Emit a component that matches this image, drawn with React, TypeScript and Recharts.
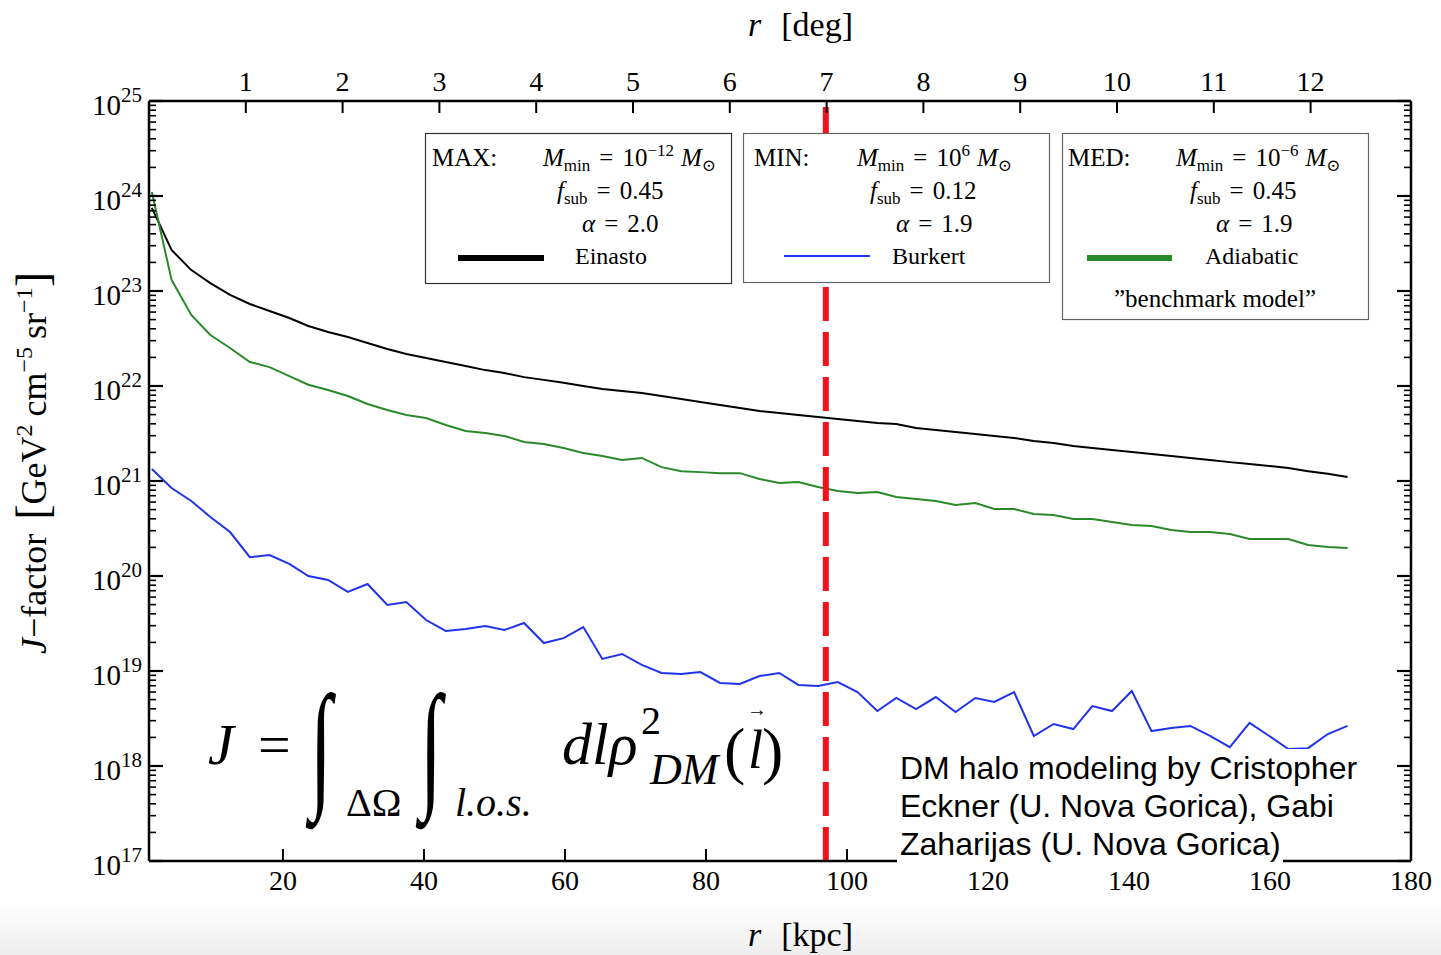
import { LineChart, Line, XAxis, YAxis, ReferenceLine } from "recharts";

const SERIF = '"Liberation Serif", "DejaVu Serif", serif';
const SANS = '"Liberation Sans", Arial, sans-serif';

// galactocentric radius [kpc]
const R_KPC = [
  1.4, 4.2, 7.0, 9.7, 12.5, 15.3, 18.1, 20.9, 23.6, 26.4, 29.2, 32.0, 34.8, 37.5, 40.3, 43.1,
  45.9, 48.7, 51.4, 54.2, 57.0, 59.8, 62.6, 65.3, 68.1, 70.9, 73.7, 76.5, 79.2, 82.0, 84.8,
  87.6, 90.4, 93.1, 95.9, 98.7, 101.5, 104.3, 107.0, 109.8, 112.6, 115.4, 118.2, 120.9, 123.7,
  126.5, 129.3, 132.1, 134.8, 137.6, 140.4, 143.2, 146.0, 148.7, 151.5, 154.3, 157.1, 159.9,
  162.6, 165.4, 168.2, 171.0,
];

const EINASTO = [
  7.5e23, 2.7e23, 1.66e23, 1.21e23, 9.1e22, 7.3e22, 6.16e22, 5.2e22, 4.28e22, 3.7e22, 3.28e22,
  2.84e22, 2.45e22, 2.17e22, 1.97e22, 1.79e22, 1.62e22, 1.47e22, 1.37e22, 1.24e22, 1.16e22,
  1.08e22, 1.0e22, 9.3e21, 8.85e21, 8.44e21, 7.85e21, 7.3e21, 6.79e21, 6.31e21, 5.87e21,
  5.46e21, 5.2e21, 4.95e21, 4.72e21, 4.5e21, 4.28e21, 4.08e21, 3.98e21, 3.61e21, 3.44e21,
  3.28e21, 3.13e21, 2.98e21, 2.84e21, 2.64e21, 2.51e21, 2.33e21, 2.22e21, 2.12e21, 2.02e21,
  1.92e21, 1.83e21, 1.75e21, 1.66e21, 1.58e21, 1.51e21, 1.44e21, 1.37e21, 1.27e21, 1.19e21,
  1.1e21,
];

const ADIABATIC = [
  1.1e24, 1.31e23, 5.59e22, 3.44e22, 2.51e22, 1.79e22, 1.58e22, 1.27e22, 1.03e22, 9.08e21,
  7.85e21, 6.47e21, 5.59e21, 4.95e21, 4.61e21, 3.88e21, 3.36e21, 3.2e21, 2.98e21, 2.58e21,
  2.45e21, 2.22e21, 1.97e21, 1.83e21, 1.66e21, 1.75e21, 1.4e21, 1.27e21, 1.24e21, 1.21e21,
  1.21e21, 1.05e21, 9.53e20, 9.76e20, 8.65e20, 7.85e20, 7.48e20, 7.66e20, 6.79e20, 6.47e20,
  6.16e20, 5.59e20, 5.86e20, 5.07e20, 5.07e20, 4.5e20, 4.39e20, 3.98e20, 3.98e20, 3.7e20,
  3.44e20, 3.36e20, 3.05e20, 2.9e20, 2.9e20, 2.77e20, 2.45e20, 2.45e20, 2.45e20, 2.12e20,
  2.02e20, 1.97e20,
];

const BURKERT = [
  1.34e21, 8.44e20, 6.16e20, 4.18e20, 2.9e20, 1.58e20, 1.66e20, 1.34e20, 1.0e20, 9.08e19,
  6.79e19, 8.24e19, 4.95e19, 5.32e19, 3.44e19, 2.64e19, 2.77e19, 2.98e19, 2.7e19, 3.2e19,
  1.97e19, 2.22e19, 2.9e19, 1.34e19, 1.51e19, 1.16e19, 9.53e18, 9.3e18, 9.76e18, 7.48e18,
  7.3e18, 8.85e18, 9.53e18, 7.13e18, 6.95e18, 7.66e18, 6.01e18, 3.79e18, 5.2e18, 3.98e18,
  5.32e18, 3.7e18, 5.2e18, 4.72e18, 6.01e18, 2.07e18, 2.77e18, 2.45e18, 4.28e18, 3.79e18,
  6.15e18, 2.33e18, 2.51e18, 2.64e18, 2.07e18, 1.58e18, 2.84e18, 2.07e18, 1.51e18, 1.54e18,
  2.17e18, 2.64e18,
];

const KPC_TICKS = [20, 40, 60, 80, 100, 120, 140, 160, 180];
const DEG_TICKS = [1, 2, 3, 4, 5, 6, 7, 8, 9, 10, 11, 12];
const KPC_PER_DEG = 13.73;
const DEG_ZERO_KPC = 1;
const Y_EXPONENTS = [17, 18, 19, 20, 21, 22, 23, 24, 25];
const CUT_KPC = 97.0;

const CREDIT_LINES = [
  "DM halo modeling by Cristopher",
  "Eckner (U. Nova Gorica), Gabi",
  "Zaharijas (U. Nova Gorica)",
];

const data = R_KPC.map((r, i) => ({
  r,
  einasto: EINASTO[i],
  adiabatic: ADIABATIC[i],
  burkert: BURKERT[i],
}));

const yTicks: number[] = [];
Y_EXPONENTS.forEach((e, k) => {
  yTicks.push(Math.pow(10, e));
  if (k < Y_EXPONENTS.length - 1) {
    for (let m = 2; m <= 9; m++) yTicks.push(m * Math.pow(10, e));
  }
});

const degTicksKpc = DEG_TICKS.map((d) => DEG_ZERO_KPC + d * KPC_PER_DEG);

function expOf(v: number) {
  const l = Math.log10(v);
  return Math.abs(l - Math.round(l)) < 1e-6 ? Math.round(l) : null;
}

function LeftTick(props: any) {
  const { x, y, payload } = props;
  const e = expOf(payload.value);
  const major = e !== null;
  return (
    <g>
      <line x1={x} x2={x + (major ? 14 : 7)} y1={y} y2={y} stroke="#000" strokeWidth={major ? 2.2 : 1.6} />
      {major && (
        <text x={x - 7} y={y + 14} textAnchor="end" fontSize={29} fontFamily={SERIF} fill="#000">
          10
          <tspan dy={-13} fontSize={21}>{e}</tspan>
        </text>
      )}
    </g>
  );
}

function RightTick(props: any) {
  const { x, y, payload } = props;
  const major = expOf(payload.value) !== null;
  return <line x1={x} x2={x - (major ? 14 : 7)} y1={y} y2={y} stroke="#000" strokeWidth={major ? 2.2 : 1.6} />;
}

function BottomTick(props: any) {
  const { x, y, payload } = props;
  return (
    <g>
      <line x1={x} x2={x} y1={y} y2={y - 12} stroke="#000" strokeWidth={2} />
      <text x={x} y={y + 29} textAnchor="middle" fontSize={28} fontFamily={SERIF} fill="#000">
        {payload.value}
      </text>
    </g>
  );
}

function TopTick(props: any) {
  const { x, y, payload } = props;
  const deg = Math.round((payload.value - DEG_ZERO_KPC) / KPC_PER_DEG);
  return (
    <g>
      <line x1={x} x2={x} y1={y} y2={y + 12} stroke="#000" strokeWidth={2} />
      <text x={x} y={y - 10} textAnchor="middle" fontSize={28} fontFamily={SERIF} fill="#000">
        {deg}
      </text>
    </g>
  );
}

function Mmin({ x, y, exp }: { x: number; y: number; exp: string }) {
  return (
    <text x={x} y={y} fontSize={25} fontFamily={SERIF} fill="#000">
      <tspan fontStyle="italic">M</tspan>
      <tspan fontSize={17} dy={5}>min</tspan>
      <tspan dy={-5} dx={9}>=</tspan>
      <tspan dx={9}>10</tspan>
      <tspan fontSize={17} dy={-10}>{exp}</tspan>
      <tspan dy={10} dx={7} fontStyle="italic">M</tspan>
      <tspan fontSize={17} dy={5}>⊙</tspan>
    </text>
  );
}

function Fsub({ x, y, val }: { x: number; y: number; val: string }) {
  return (
    <text x={x} y={y} fontSize={25} fontFamily={SERIF} fill="#000">
      <tspan fontStyle="italic">f</tspan>
      <tspan fontSize={17} dy={5}>sub</tspan>
      <tspan dy={-5} dx={9}>=</tspan>
      <tspan dx={9}>{val}</tspan>
    </text>
  );
}

function Alpha({ x, y, val }: { x: number; y: number; val: string }) {
  return (
    <text x={x} y={y} fontSize={25} fontFamily={SERIF} fill="#000">
      <tspan fontStyle="italic">α</tspan>
      <tspan dx={9}>=</tspan>
      <tspan dx={9}>{val}</tspan>
    </text>
  );
}

function Overlay() {
  const t = { fontFamily: SERIF, fill: "#000" };
  return (
    <svg width={1441} height={955} style={{ position: "absolute", left: 0, top: 0, pointerEvents: "none" }}>
      {/* legend boxes */}
      <rect x={425.5} y={133.5} width={306} height={150} fill="#fff" stroke="#333" strokeWidth={1.2} />
      <text x={432} y={166} fontSize={25} {...t}>MAX:</text>
      <Mmin x={543} y={166} exp="−12" />
      <Fsub x={557} y={199} val="0.45" />
      <Alpha x={582} y={232} val="2.0" />
      <line x1={458} x2={544} y1={258} y2={258} stroke="#000" strokeWidth={6} />
      <text x={575} y={264} fontSize={24} {...t}>Einasto</text>

      <rect x={743.5} y={133.5} width={306} height={149} fill="#fff" stroke="#666" strokeWidth={1.2} />
      <text x={754} y={166} fontSize={25} {...t}>MIN:</text>
      <Mmin x={857} y={166} exp="6" />
      <Fsub x={870} y={199} val="0.12" />
      <Alpha x={896} y={232} val="1.9" />
      <line x1={784} x2={870} y1={256} y2={256} stroke="#2233ee" strokeWidth={2} />
      <text x={892} y={264} fontSize={24} {...t}>Burkert</text>

      <rect x={1062.5} y={133.5} width={306} height={186} fill="#fff" stroke="#666" strokeWidth={1.2} />
      <text x={1068} y={166} fontSize={25} {...t}>MED:</text>
      <Mmin x={1176} y={166} exp="−6" />
      <Fsub x={1190} y={199} val="0.45" />
      <Alpha x={1216} y={232} val="1.9" />
      <line x1={1087} x2={1172} y1={258} y2={258} stroke="#2a8a2a" strokeWidth={6} />
      <text x={1205} y={264} fontSize={24} {...t}>Adiabatic</text>
      <text x={1215} y={307} fontSize={25} textAnchor="middle" {...t}>{"\u201Dbenchmark model\u201D"}</text>

      {/* formula */}
      <text x={208} y={764} fontSize={58} fontStyle="italic" {...t}>J</text>
      <text x={258} y={764} fontSize={58} {...t}>=</text>
      <text transform="translate(310,792) scale(1,1.75)" fontSize={80} {...t}>∫</text>
      <text x={346} y={816} fontSize={40} {...t}>ΔΩ</text>
      <text transform="translate(420,792) scale(1,1.75)" fontSize={80} {...t}>∫</text>
      <text x={455} y={816} fontSize={40} fontStyle="italic" {...t}>l.o.s.</text>
      <text x={562} y={764} fontSize={60} fontStyle="italic" {...t}>dlρ</text>
      <text x={641} y={734} fontSize={40} {...t}>2</text>
      <text x={650} y={784} fontSize={44} fontStyle="italic" {...t}>DM</text>
      <text x={724} y={772} fontSize={64} {...t}>(</text>
      <text x={748} y={768} fontSize={54} fontStyle="italic" {...t}>l</text>
      <text x={747} y={716} fontSize={20} {...t}>→</text>
      <text x={762} y={772} fontSize={64} {...t}>)</text>

      {/* axis titles */}
      <text x={748} y={36} fontSize={34} {...t}>
        <tspan fontStyle="italic">r</tspan>
        <tspan dx={20}>[deg]</tspan>
      </text>
      <text x={748} y={946} fontSize={34} {...t}>
        <tspan fontStyle="italic">r</tspan>
        <tspan dx={20}>[kpc]</tspan>
      </text>
      <text transform="translate(46,463) rotate(-90)" fontSize={36} textAnchor="middle" {...t}>
        <tspan fontStyle="italic">J</tspan>
        <tspan>−factor</tspan>
        <tspan dx={14} fontSize={46} dy={2}>[</tspan>
        <tspan dy={-2}>GeV</tspan>
        <tspan fontSize={24} dy={-14}>2</tspan>
        <tspan dy={14} dx={8}>cm</tspan>
        <tspan fontSize={24} dy={-14}>−5</tspan>
        <tspan dy={14} dx={8}>sr</tspan>
        <tspan fontSize={24} dy={-14}>−1</tspan>
        <tspan fontSize={46} dy={16}>]</tspan>
      </text>
    </svg>
  );
}

export default function App() {
  return (
    <div style={{ position: "absolute", left: 0, top: 0, width: 1441, height: 955, background: "#fff", overflow: "hidden" }}>
      <div
        style={{
          position: "absolute",
          left: 0,
          top: 903,
          width: 1441,
          height: 52,
          background: "linear-gradient(to bottom, #ffffff, #ededed)",
        }}
      />
      <div style={{ position: "absolute", left: 0, top: 0 }}>
        <LineChart width={1441} height={955} data={data} margin={{ top: 61, right: 20, bottom: 54, left: 89 }}>
          <XAxis
            xAxisId="bottom"
            dataKey="r"
            type="number"
            domain={[1, 180]}
            allowDataOverflow
            ticks={KPC_TICKS}
            interval={0}
            height={40}
            tickSize={0}
            tickMargin={0}
            tickLine={false}
            tick={BottomTick}
            axisLine={{ stroke: "#000", strokeWidth: 2.5 }}
          />
          <XAxis
            xAxisId="top"
            orientation="top"
            dataKey="r"
            type="number"
            domain={[1, 180]}
            allowDataOverflow
            ticks={degTicksKpc}
            interval={0}
            height={40}
            tickSize={0}
            tickMargin={0}
            tickLine={false}
            tick={TopTick}
            axisLine={{ stroke: "#000", strokeWidth: 2.5 }}
          />
          <YAxis
            yAxisId="left"
            scale="log"
            type="number"
            domain={[1e17, 1e25]}
            allowDataOverflow
            ticks={yTicks}
            interval={0}
            width={60}
            tickSize={0}
            tickMargin={0}
            tickLine={false}
            tick={LeftTick}
            axisLine={{ stroke: "#000", strokeWidth: 2.5 }}
          />
          <YAxis
            yAxisId="right"
            orientation="right"
            scale="log"
            type="number"
            domain={[1e17, 1e25]}
            allowDataOverflow
            ticks={yTicks}
            interval={0}
            width={10}
            tickSize={0}
            tickMargin={0}
            tickLine={false}
            tick={RightTick}
            axisLine={{ stroke: "#000", strokeWidth: 2.5 }}
          />
          <Line xAxisId="bottom" yAxisId="left" type="linear" dataKey="einasto" stroke="#000" strokeWidth={2} dot={false} isAnimationActive={false} />
          <Line xAxisId="bottom" yAxisId="left" type="linear" dataKey="adiabatic" stroke="#2a8a2a" strokeWidth={2} dot={false} isAnimationActive={false} />
          <Line xAxisId="bottom" yAxisId="left" type="linear" dataKey="burkert" stroke="#2233ee" strokeWidth={2} dot={false} isAnimationActive={false} />
          <ReferenceLine xAxisId="bottom" yAxisId="left" x={CUT_KPC} stroke="#f0131e" strokeWidth={6} strokeDasharray="34 11" />
        </LineChart>
      </div>
      <Overlay />
      <div style={{ position: "absolute", left: 897, top: 749, fontFamily: SANS, fontSize: 32, color: "#000" }}>
        {CREDIT_LINES.map((l) => (
          <div key={l} style={{ background: "#fff", width: "fit-content", height: 38, lineHeight: "38px", paddingRight: 2, paddingLeft: 3 }}>
            {l}
          </div>
        ))}
      </div>
    </div>
  );
}
